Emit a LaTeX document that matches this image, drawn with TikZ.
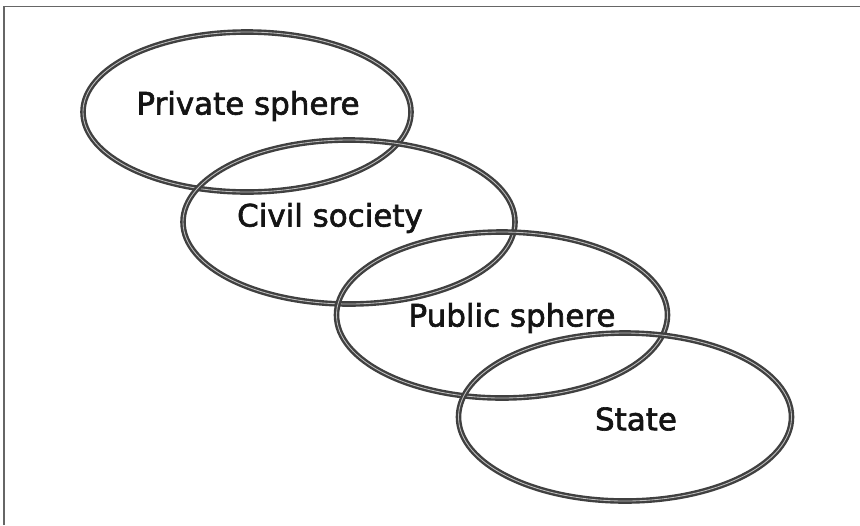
\documentclass[tikz,border=0pt]{standalone}
\usepackage{fontspec}
\setmainfont{DejaVu Sans}
\newfontfamily\tagfont{DejaVu Sans}[FakeBold=2]
\usetikzlibrary{shapes.geometric}

\tikzset{
  sphere/.style={ellipse, draw=black!75, double=black!25, double distance=0.6pt, line width=1.7pt, inner sep=0pt},
  tag/.style={text=black!92, font=\tagfont\fontsize{22}{26}\selectfont, inner sep=0pt}
}

\begin{document}
\begin{tikzpicture}

  	\def\d{0.025};

 \useasboundingbox (0,0) rectangle (860*\d, -525*\d);

	%frame
 \draw[black!60, line width=1pt] (4*\d, -525*\d) -- (4*\d, -6.5*\d) -- (860*\d, -6.5*\d);

	%draw ellipses
    \foreach \x/\y/\w/\h/\name in { 247/112/328/160/priv, 349/222/332/164/civ, 502/315/331/166/pub, 625/417/333/168/st }{
         \node[sphere, minimum width=\w*\d cm, minimum height=\h*\d cm] (\name) at (\x*\d, -\y*\d) {};
    }

	%draw labels
    \foreach \x/\y/\txt/\name in { 248/106/Private sphere/privtag, 330/218/Civil society/civtag, 512/318/Public sphere/pubtag, 636/419/State/sttag }{
         \node[tag] (\name) at (\x*\d, -\y*\d) {\txt};
    }

\end{tikzpicture}
\end{document}
